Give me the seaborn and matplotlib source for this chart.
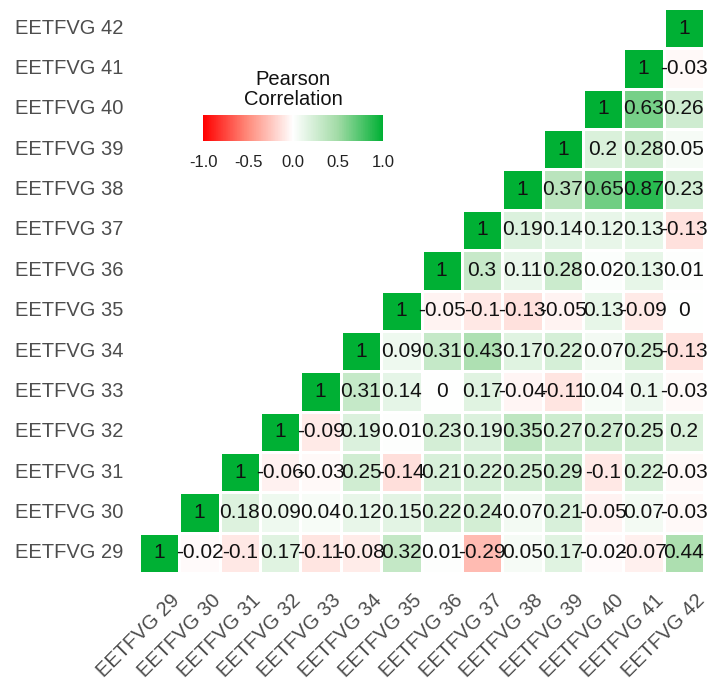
#!/usr/bin/env python3
"""Pearson correlation heatmap (upper triangle) for EETFVG 29-42."""

import matplotlib.pyplot as plt
import matplotlib.transforms as mtransforms
import numpy as np
import pandas as pd
import seaborn as sns
from matplotlib.colors import LinearSegmentedColormap

# ── DATA ──
variables = [f"EETFVG {i}" for i in range(29, 43)]

# each row holds the correlations of one variable with itself and the later ones
r29 = [1, -0.02, -0.1, 0.17, -0.11, -0.08, 0.32, 0.01, -0.29, 0.05, 0.17, -0.02, -0.07, 0.44]
r30 = [1, 0.18, 0.09, 0.04, 0.12, 0.15, 0.22, 0.24, 0.07, 0.21, -0.05, 0.07, -0.03]
r31 = [1, -0.06, -0.03, 0.25, -0.14, 0.21, 0.22, 0.25, 0.29, -0.1, 0.22, -0.03]
r32 = [1, -0.09, 0.19, 0.01, 0.23, 0.19, 0.35, 0.27, 0.27, 0.25, 0.2]
r33 = [1, 0.31, 0.14, 0, 0.17, -0.04, -0.11, 0.04, 0.1, -0.03]
r34 = [1, 0.09, 0.31, 0.43, 0.17, 0.22, 0.07, 0.25, -0.13]
r35 = [1, -0.05, -0.1, -0.13, -0.05, 0.13, -0.09, 0]
r36 = [1, 0.3, 0.11, 0.28, 0.02, 0.13, 0.01]
r37 = [1, 0.19, 0.14, 0.12, 0.13, -0.13]
r38 = [1, 0.37, 0.65, 0.87, 0.23]
r39 = [1, 0.2, 0.28, 0.05]
r40 = [1, 0.63, 0.26]
r41 = [1, -0.03]
r42 = [1]
upper_rows = [r29, r30, r31, r32, r33, r34, r35, r36, r37, r38, r39, r40, r41, r42]

cbar_ticks = [-1.0, -0.5, 0.0, 0.5, 1.0]

# ── BUILD MATRIX ──
n = len(variables)
corr = np.zeros((n, n))
for i, row in enumerate(upper_rows):
    corr[i, i:] = row
    corr[i:, i] = row
df = pd.DataFrame(corr, index=variables, columns=variables)
df = df.iloc[::-1]  # EETFVG 42 on top

row_pos = np.array([variables.index(v) for v in df.index])[:, None]
col_pos = np.arange(n)[None, :]
mask = col_pos < row_pos

# ── FIGURE ──
sns.set_style("white")
plt.rcParams["font.family"] = ["Liberation Sans", "DejaVu Sans"]

cmap = LinearSegmentedColormap.from_list(
    "rwg", ["#FF0000", "#FF8C7C", "#FFFFFF", "#A2DBA6", "#00B034"]
)

fig = plt.figure(figsize=(7.16, 6.88), dpi=100)
ax = fig.add_axes([139 / 716, 1 - 573 / 688, 565 / 716, 565 / 688])
cax = fig.add_axes([203 / 716, 1 - 141 / 688, 180 / 716, 26 / 688])

sns.heatmap(
    df, mask=mask, cmap=cmap, vmin=-1, vmax=1, center=0,
    annot=True, fmt="g",
    annot_kws={"fontsize": 15, "color": "#111111"},
    linewidths=1, linecolor="white", square=False,
    cbar_ax=cax, cbar_kws={"orientation": "horizontal", "ticks": cbar_ticks},
    ax=ax,
)

# axis labels
ax.set_xlabel("")
ax.set_ylabel("")
ax.tick_params(axis="both", length=0)
ax.tick_params(axis="y", pad=11, labelsize=14.5, labelcolor="#4D4D4D")
ax.tick_params(axis="x", pad=13, labelsize=14.5, labelcolor="#4D4D4D")
ax.set_yticklabels(df.index, rotation=0)
ax.set_xticklabels(df.columns, rotation=45, ha="right", va="top",
                   rotation_mode="anchor")
offset = mtransforms.ScaledTranslation(11 / 100, 0, fig.dpi_scale_trans)
for label in ax.get_xticklabels():
    label.set_transform(label.get_transform() + offset)

# ── LEGEND (colorbar) ──
cbar = ax.collections[0].colorbar
cbar.outline.set_visible(False)
cax.set_xticks(cbar_ticks)
cax.set_xticklabels([f"{t:.1f}" for t in cbar_ticks])
cax.tick_params(axis="x", direction="in", length=5, width=1.2, color="white",
                top=True, bottom=True, labeltop=False, labelbottom=True,
                labelsize=12, labelcolor="#222222", pad=10)
fig.text(293 / 716, 1 - 109 / 688, "Pearson\nCorrelation", ha="center",
         va="bottom", ma="center", fontsize=14.5, color="#111111",
         linespacing=1.05)

fig.savefig("out.png", dpi=100)
plt.close(fig)
